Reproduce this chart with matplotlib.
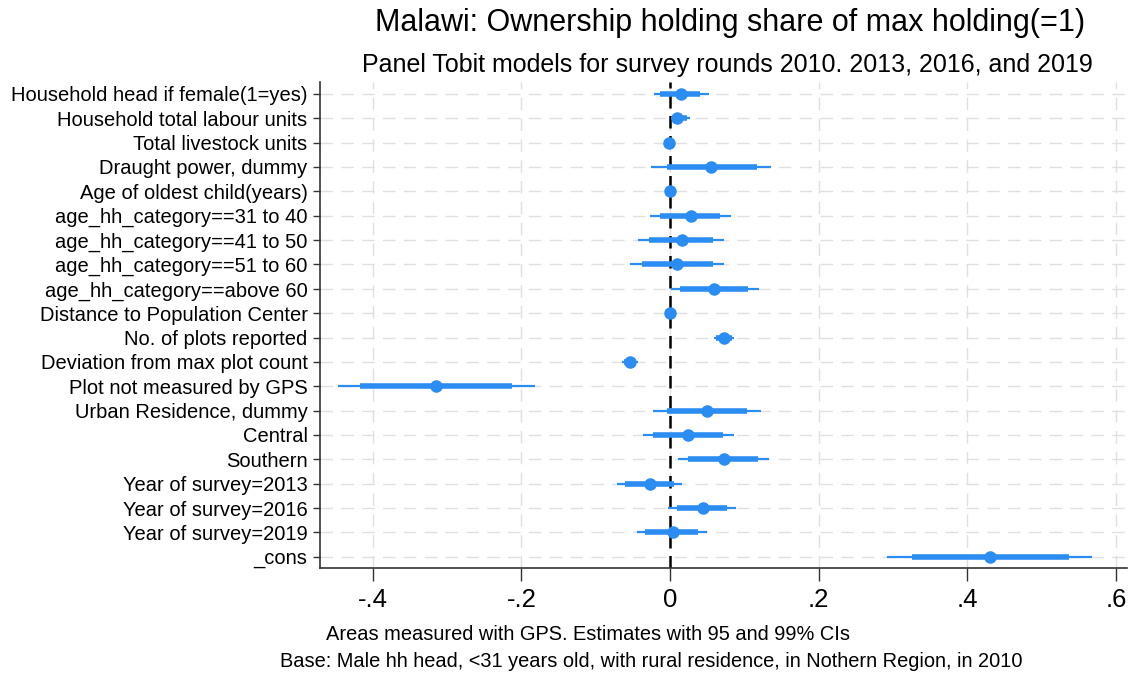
import matplotlib
matplotlib.use("Agg")
import matplotlib.pyplot as plt
import numpy as np

labels = [
    "Household head if female(1=yes)",
    "Household total labour units",
    "Total livestock units",
    "Draught power, dummy",
    "Age of oldest child(years)",
    "age_hh_category==31 to 40",
    "age_hh_category==41 to 50",
    "age_hh_category==51 to 60",
    "age_hh_category==above 60",
    "Distance to Population Center",
    "No. of plots reported",
    "Deviation from max plot count",
    "Plot not measured by GPS",
    "Urban Residence, dummy",
    "Central",
    "Southern",
    "Year of survey=2013",
    "Year of survey=2016",
    "Year of survey=2019",
    "_cons",
]
coef = [0.0144, 0.0099, -0.001, 0.0552, 0.0, 0.0278, 0.0162, 0.009, 0.0597, 0.0,
        0.0727, -0.0539, -0.3152, 0.0494, 0.0247, 0.0727, -0.0269, 0.044, 0.0036, 0.431]
lo99 = [-0.022, 0.001, -0.003, -0.025, -0.002, -0.027, -0.0426, -0.0539, 0.001, -0.001,
        0.059, -0.065, -0.4467, -0.0224, -0.036, 0.0112, -0.0718, -0.0022, -0.0449, 0.2918]
hi99 = [0.052, 0.027, 0.001, 0.1356, 0.002, 0.0817, 0.0727, 0.0727, 0.1203, 0.001,
        0.086, -0.043, -0.1818, 0.122, 0.0862, 0.1338, 0.0157, 0.0889, 0.0494, 0.568]
lo95 = [-0.013, 0.0036, -0.002, -0.0045, -0.0015, -0.0135, -0.029, -0.038, 0.0135, -0.0008,
        0.062, -0.062, -0.4166, -0.0045, -0.0224, 0.0247, -0.0606, 0.0099, -0.0337, 0.3255]
hi95 = [0.040, 0.0225, 0.0005, 0.1167, 0.0015, 0.0673, 0.0583, 0.0575, 0.1055, 0.0008,
        0.083, -0.046, -0.2132, 0.1041, 0.0718, 0.119, 0.0054, 0.0763, 0.0381, 0.5365]
xticks = [-0.4, -0.2, 0, 0.2, 0.4, 0.6]
xticklabels = ["-.4", "-.2", "0", ".2", ".4", ".6"]

title = "Malawi: Ownership holding share of max holding(=1)"
subtitle = "Panel Tobit models for survey rounds 2010. 2013, 2016, and 2019"
note1 = "Areas measured with GPS. Estimates with 95 and 99% CIs"
note2 = "Base: Male hh head, <31 years old, with rural residence, in Nothern Region, in 2010"

plt.rcParams['font.family'] = ['Liberation Sans', 'DejaVu Sans']
blue = '#2b8cf2'

fig = plt.figure(figsize=(11.31, 6.74), dpi=100)
ax = fig.add_axes([0.283, 0.157, 0.7135, 0.721])

y = np.arange(len(labels))
ax.set_ylim(len(labels) - 0.53, -0.48)
ax.set_xlim(-0.471, 0.615)

# grid
for yy in y:
    ax.axhline(yy, color='#e0e0e0', lw=1.0, dashes=(9, 6), zorder=0)
for xt in xticks:
    ax.axvline(xt, color='#e0e0e0', lw=1.0, dashes=(9, 6), zorder=0)

ax.axvline(0, color='black', lw=1.8, dashes=(5, 3), zorder=1)

ax.hlines(y, lo99, hi99, color=blue, lw=1.6, zorder=2)
ax.hlines(y, lo95, hi95, color=blue, lw=4.0, zorder=3)
ax.plot(coef, y, 'o', color=blue, ms=9, zorder=4, markeredgewidth=0)

ax.set_yticks(y)
ax.set_yticklabels(labels, fontsize=14.5)
ax.set_xticks(xticks)
ax.set_xticklabels(xticklabels, fontsize=18.5)
ax.tick_params(axis='y', length=5, width=1, color='#333333', pad=4)
ax.tick_params(axis='x', length=9, width=1, color='#333333', pad=5)

for s in ['top', 'right']:
    ax.spines[s].set_visible(False)
for s in ['left', 'bottom']:
    ax.spines[s].set_color('#333333')
    ax.spines[s].set_linewidth(1.2)

fig.text(0.6455, 0.966, title, ha='center', va='center', fontsize=22)
fig.text(0.643, 0.903, subtitle, ha='center', va='center', fontsize=18)
fig.text(0.52, 0.059, note1, ha='center', va='center', fontsize=14.4)
fig.text(0.5755, 0.018, note2, ha='center', va='center', fontsize=14.4)

fig.savefig('out.png', dpi=100)
